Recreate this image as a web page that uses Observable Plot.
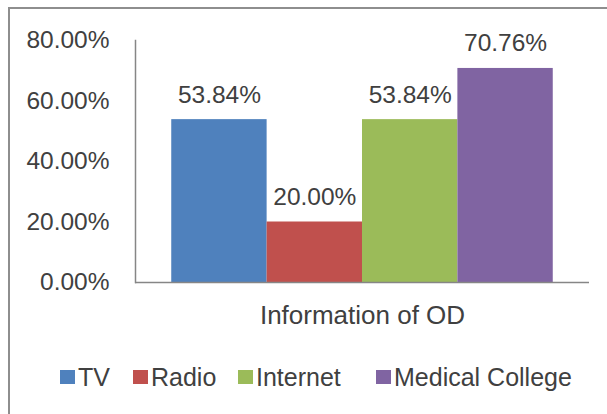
<!DOCTYPE html>
<html>
<head>
<meta charset="utf-8">
<script src="https://cdn.jsdelivr.net/npm/d3@7"></script>
<script src="https://cdn.jsdelivr.net/npm/@observablehq/plot@0.6"></script>
<style>
  html, body { margin: 0; padding: 0; background: #fff; }
  #wrap { position: relative; width: 607px; height: 414px; overflow: hidden; background: #fff; }
  #border { position: absolute; left: 8px; top: 7px; width: 700px; height: 500px;
            border-top: 2px solid #8e8e8e; border-left: 2px solid #8e8e8e; }
  #chart { position: absolute; left: 0; top: 0; }
  #legend { position: absolute; left: 0; top: 362px; width: 607px; height: 30px;
            font-family: "Liberation Sans", Arial, sans-serif; font-size: 25px; color: #404040; }
  .item { position: absolute; top: 0; height: 30px; line-height: 30px; white-space: nowrap; }
  .sw { display: inline-block; width: 15px; height: 14px; vertical-align: middle; margin-right: 3px; position: relative; top: -2px; }
</style>
</head>
<body>
<div id="wrap">
  <div id="border"></div>
  <div id="chart"></div>
  <div id="legend"></div>
</div>
<script>
const group = "Information of OD";
const series = ["TV", "Radio", "Internet", "Medical College"];
const values = [0.5384, 0.20, 0.5384, 0.7076];
const colors = ["#4f81bd", "#c0504d", "#9bbb59", "#8064a2"];
const yTicks = [0, 0.2, 0.4, 0.6, 0.8];
const legendX = [60, 133, 238, 376];

const data = series.map((s, i) => ({group, series: s, value: values[i]}));
const fmt = v => (v * 100).toFixed(2) + "%";
const textColor = "#404040";
const fs = 24.5;

const plot = Plot.plot({
  width: 607,
  height: 340,
  marginLeft: 135,
  marginRight: 18,
  marginTop: 40,
  marginBottom: 58,
  style: {fontFamily: "Liberation Sans, Arial, sans-serif", fontSize: fs + "px", color: textColor, background: "transparent"},
  fx: {domain: [group], padding: 0, label: null, axis: null, round: false},
  x: {domain: series, paddingInner: 0, paddingOuter: 0.38, axis: null, round: false},
  y: {domain: [0, 0.8], axis: null},
  color: {domain: series, range: colors},
  marks: [
    Plot.axisY(yTicks, {tickSize: 0, tickPadding: 26, tickFormat: d3.format(".2%"), fill: textColor, fontSize: fs, label: null}),
    Plot.axisFx({anchor: "bottom", tickSize: 0, tickPadding: 23, fill: textColor, fontSize: 26, label: null}),
    Plot.barY(data, {fx: "group", x: "series", y: "value", fill: "series", insetLeft: 0, insetRight: 0}),
    Plot.text(data, {fx: "group", x: "series", y: "value", text: d => fmt(d.value), lineAnchor: "bottom", dy: -17, fill: textColor, fontSize: fs}),
    Plot.ruleY([0], {stroke: "#868686", strokeWidth: 1.5}),
    Plot.frame({anchor: "left", stroke: "#868686", strokeWidth: 1.5})
  ]
});
document.getElementById("chart").appendChild(plot);

const legend = document.getElementById("legend");
series.forEach((s, i) => {
  const item = document.createElement("div");
  item.className = "item";
  item.style.left = legendX[i] + "px";
  const sw = document.createElement("span");
  sw.className = "sw";
  sw.style.background = colors[i];
  item.appendChild(sw);
  item.appendChild(document.createTextNode(s));
  legend.appendChild(item);
});
</script>
</body>
</html>
